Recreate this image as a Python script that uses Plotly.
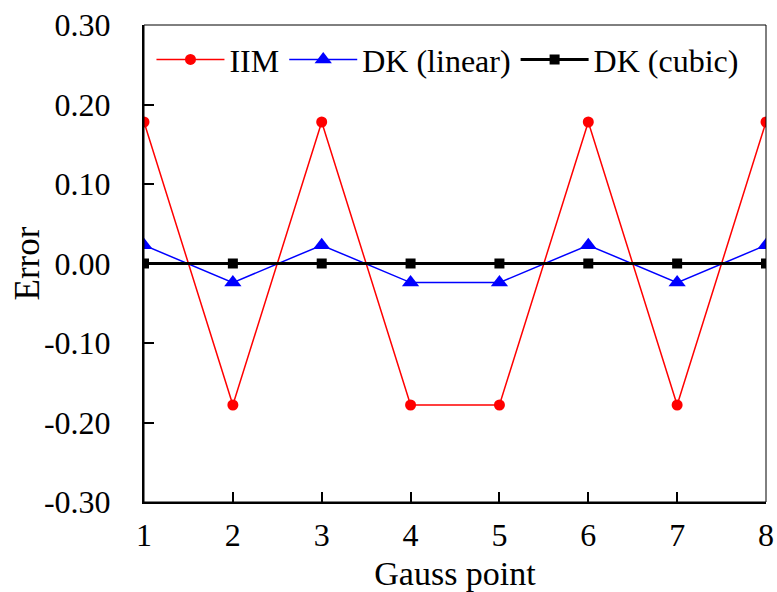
import plotly.graph_objects as go

gauss_points = [1, 2, 3, 4, 5, 6, 7, 8]
iim = [0.178, -0.178, 0.178, -0.178, -0.178, 0.178, -0.178, 0.178]
dk_linear = [0.023, -0.024, 0.023, -0.024, -0.024, 0.023, -0.024, 0.023]
dk_cubic = [0.0, 0.0, 0.0, 0.0, 0.0, 0.0, 0.0, 0.0]
y_ticks = [-0.3, -0.2, -0.1, 0.0, 0.1, 0.2, 0.3]
y_tick_text = ["-0.30", "-0.20", "-0.10", "0.00", "0.10", "0.20", "0.30"]

font = "Liberation Serif"

fig = go.Figure()
fig.add_trace(go.Scatter(x=gauss_points, y=iim, name="IIM", mode="lines+markers",
                         line=dict(color="#ff0000", width=1.5),
                         marker=dict(symbol="circle", size=11, color="#ff0000")))
fig.add_trace(go.Scatter(x=gauss_points, y=dk_linear, name="DK (linear)", mode="lines+markers",
                         line=dict(color="#0000ff", width=1.5),
                         marker=dict(symbol="triangle-up", size=15, color="#0000ff")))
fig.add_trace(go.Scatter(x=gauss_points, y=dk_cubic, name="DK (cubic)", mode="lines+markers",
                         line=dict(color="#000000", width=3),
                         marker=dict(symbol="square", size=10, color="#000000")))

fig.update_layout(
    width=777, height=592,
    margin=dict(l=144, r=11, t=25, b=90, autoexpand=False),
    paper_bgcolor="white", plot_bgcolor="white",
    font=dict(family=font, size=34, color="black"),
    showlegend=True,
    legend=dict(orientation="h", x=0.012, y=0.985, xanchor="left", yanchor="top",
                font=dict(family=font, size=32, color="black"),
                bgcolor="rgba(0,0,0,0)", itemwidth=68, tracegroupgap=0),
    xaxis=dict(range=[1, 8], tickvals=gauss_points, ticks="inside", ticklen=10,
               tickwidth=1.5, tickcolor="black", showline=True, linecolor="black",
               linewidth=2, mirror=False, showgrid=False, zeroline=False, automargin=False,
               tickfont=dict(family=font, size=32), ticklabelstandoff=4,
               ticklabeloverflow="allow",
               title=dict(text="Gauss point", font=dict(family=font, size=34), standoff=9)),
    yaxis=dict(range=[-0.3, 0.3], tickvals=y_ticks, ticktext=y_tick_text, ticks="inside",
               ticklen=10, tickwidth=1.5, tickcolor="black", showline=True, linecolor="black",
               linewidth=2, mirror=False, showgrid=False, zeroline=False, automargin=False,
               tickfont=dict(family=font, size=32), ticklabelstandoff=25,
               ticklabeloverflow="allow"),
    annotations=[dict(text="Error", xref="paper", yref="paper", x=-0.1865, y=0.5,
                      xanchor="center", yanchor="middle", textangle=-90, showarrow=False,
                      font=dict(family=font, size=35, color="black"))],
    shapes=[dict(type="rect", xref="paper", yref="paper", x0=0, y0=0, x1=1, y1=1,
                 line=dict(color="black", width=1), layer="above")],
)

fig.write_html("out.html", config={"displayModeBar": False},
               post_script="document.body.style.margin='0';document.body.style.overflow='hidden';")
